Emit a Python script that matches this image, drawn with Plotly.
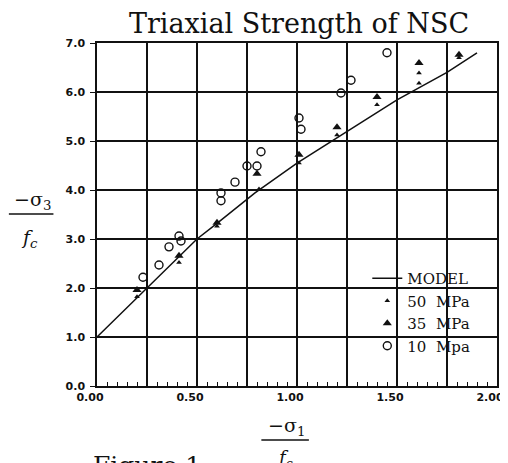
import plotly.graph_objects as go

# ---- data ----
model_x = [0.0, 0.25, 0.50, 0.60, 0.79, 1.00, 1.25, 1.50, 1.75, 1.90]
model_y = [1.0, 2.00, 3.00, 3.32, 3.94, 4.55, 5.20, 5.84, 6.40, 6.80]

mpa50_x = [0.20, 0.41, 0.60, 0.81, 1.01, 1.20, 1.40, 1.61, 1.61, 1.81]
mpa50_y = [1.82, 2.52, 3.26, 4.02, 4.55, 5.12, 5.74, 6.39, 6.18, 6.70]

mpa35_x = [0.20, 0.41, 0.60, 0.80, 1.01, 1.20, 1.40, 1.61, 1.81]
mpa35_y = [1.96, 2.66, 3.33, 4.33, 4.72, 5.28, 5.90, 6.59, 6.76]

mpa10_x = [0.23, 0.31, 0.36, 0.41, 0.42, 0.62, 0.62, 0.69, 0.75, 0.80, 0.82, 1.01, 1.02, 1.22, 1.27, 1.45]
mpa10_y = [2.22, 2.47, 2.84, 3.06, 2.96, 3.94, 3.78, 4.16, 4.49, 4.49, 4.78, 5.47, 5.24, 5.98, 6.24, 6.80]

x_tickvals = [0, 0.25, 0.5, 0.75, 1.0, 1.25, 1.5, 1.75, 2.0]
x_ticktext = ["0.00", "", "0.50", "", "1.00", "", "1.50", "", "2.00"]
y_tickvals = [0, 1, 2, 3, 4, 5, 6, 7]
y_ticktext = ["0.0", "1.0", "2.0", "3.0", "4.0", "5.0", "6.0", "7.0"]

INK = "#111111"
SERIF = "DejaVu Serif"

fig = go.Figure()
fig.add_trace(go.Scatter(x=model_x, y=model_y, mode="lines", name="MODEL",
                         line=dict(color=INK, width=1.5)))
fig.add_trace(go.Scatter(x=mpa50_x, y=mpa50_y, mode="markers", name="50  MPa",
                         marker=dict(symbol="triangle-up", size=5, color=INK)))
fig.add_trace(go.Scatter(x=mpa35_x, y=mpa35_y, mode="markers", name="35  MPa",
                         marker=dict(symbol="triangle-up", size=8, color=INK)))
fig.add_trace(go.Scatter(x=mpa10_x, y=mpa10_y, mode="markers", name="10  Mpa",
                         marker=dict(symbol="circle-open", size=8, color=INK,
                                     line=dict(width=1.4, color=INK))))

# page body has an 8px margin: work in screenshot pixels and shift
OFF = 8
W, H = 508, 463
L = 97 - OFF
T = 43 - OFF
R = W - (501 - OFF)
B = H - (386 - OFF)
PW, PH = W - L - R, H - T - B


def px(xs):
    return (xs - OFF - L) / PW


def py(ys):
    return (H - B - (ys - OFF)) / PH


fig.update_layout(
    width=W, height=H,
    margin=dict(l=L, r=R, t=T, b=B),
    paper_bgcolor="white", plot_bgcolor="white",
    showlegend=True,
    legend=dict(x=px(370), y=py(262), xanchor="left", yanchor="top",
                bgcolor="rgba(0,0,0,0)", borderwidth=0,
                font=dict(family=SERIF, size=15, color=INK),
                itemwidth=30, tracegroupgap=0),
    title=dict(text="Triaxial Strength of NSC", xref="paper", x=px(301),
               xanchor="center", y=1 - (24 - OFF) / H, yanchor="middle",
               font=dict(family=SERIF, size=27, color=INK)),
)

fig.update_xaxes(range=[0, 2], tickvals=x_tickvals, ticktext=x_ticktext,
                 showgrid=True, gridcolor=INK, gridwidth=1.5,
                 showline=True, linecolor=INK, linewidth=1.5, mirror=True,
                 ticks="inside", ticklen=5, tickcolor=INK, tickwidth=1.2,
                 minor=dict(dtick=0.05, ticks="inside", ticklen=4, tickcolor=INK,
                            tickwidth=1, showgrid=False),
                 ticklabelshift=-7,
                 tickfont=dict(family="DejaVu Sans", size=11, color=INK, weight="bold"),
                 zeroline=False)
fig.update_yaxes(range=[0, 7], tickvals=y_tickvals, ticktext=y_ticktext,
                 showgrid=True, gridcolor=INK, gridwidth=1.5,
                 showline=True, linecolor=INK, linewidth=1.5, mirror=True,
                 ticks="outside", ticklen=5, tickcolor=INK, tickwidth=1.2,
                 ticklabelstandoff=3,
                 tickfont=dict(family="DejaVu Sans", size=11, color=INK, weight="bold"),
                 zeroline=False)

# y-axis label (fraction)
fig.add_annotation(text="\u2212\u03c3<sub>3</sub>", xref="paper", yref="paper",
                   x=px(32), y=py(200), xanchor="center", yanchor="middle",
                   showarrow=False, font=dict(family=SERIF, size=19, color=INK))
fig.add_shape(type="line", xref="paper", yref="paper",
              x0=px(8), x1=px(53), y0=py(214), y1=py(214),
              line=dict(color=INK, width=1.5))
fig.add_annotation(text="<i>f</i><sub><i>c</i></sub>", xref="paper", yref="paper",
                   x=px(29), y=py(238), xanchor="center", yanchor="middle",
                   showarrow=False, font=dict(family=SERIF, size=19, color=INK))

# x-axis label (fraction)
fig.add_annotation(text="\u2212\u03c3<sub>1</sub>", xref="paper", yref="paper",
                   x=px(288), y=py(426), xanchor="center", yanchor="middle",
                   showarrow=False, font=dict(family=SERIF, size=19, color=INK))
fig.add_shape(type="line", xref="paper", yref="paper",
              x0=px(263), x1=px(311), y0=py(440), y1=py(440),
              line=dict(color=INK, width=1.5))
fig.add_annotation(text="<i>f</i><sub><i>c</i></sub>", xref="paper", yref="paper",
                   x=px(287), y=py(445), xanchor="center", yanchor="top",
                   showarrow=False, font=dict(family=SERIF, size=18, color=INK))

# caption, cut off at the bottom of the window
fig.add_annotation(text="Figure 1", xref="paper", yref="paper",
                   x=px(91), y=py(449), xanchor="left", yanchor="top",
                   showarrow=False, font=dict(family=SERIF, size=25, color=INK))

fig.write_html("out.html")
